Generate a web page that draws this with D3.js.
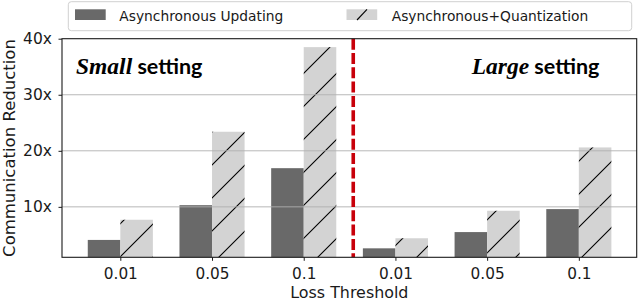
<!DOCTYPE html>
<html>
<head>
<meta charset="utf-8">
<script src="https://cdn.jsdelivr.net/npm/d3@7"></script>
<style>
  html, body { margin: 0; padding: 0; background: #fff; }
  svg { display: block; }
</style>
</head>
<body>
<svg id="chart" width="640" height="301"></svg>
<script>
// ---- data ----
const categories = ["0.01", "0.05", "0.1", "0.01", "0.05", "0.1"];
const asyncUpdating = [4.1, 10.3, 16.9, 2.6, 5.5, 9.6];
const asyncQuantization = [7.7, 23.4, 38.5, 4.4, 9.3, 20.6];
const seriesNames = ["Asynchronous Updating", "Asynchronous+Quantization"];
const yTicks = [10, 20, 30, 40];
const yTickLabels = ["10x", "20x", "30x", "40x"];
const settingLabels = [["Small", " setting"], ["Large", " setting"]];
const dividerPos = 2.54;

// ---- layout ----
const svg = d3.select("#chart");
const L = 62, R = 636.7, T = 38.7, B = 257.3;
const x = d3.scaleLinear().domain([-0.636, 5.631]).range([L, R]);
const y = d3.scaleLinear().domain([1, 40]).range([B, T]);
const bw = 0.355;
const darkColor = "#696969", lightColor = "#d3d3d3";
const txt = "#1a1a1a";

// hatch pattern
const defs = svg.append("defs");
const P = 33;
const pat = defs.append("pattern").attr("id", "hatch")
  .attr("patternUnits", "userSpaceOnUse")
  .attr("x", 14).attr("y", 0).attr("width", P).attr("height", P);
pat.append("rect").attr("width", P).attr("height", P).attr("fill", lightColor);
pat.append("path")
  .attr("d", `M-2,${P + 2} L${P + 2},-2 M-2,2 L2,-2 M${P - 2},${P + 2} L${P + 2},${P - 2}`)
  .attr("stroke", "#000").attr("stroke-width", 1.1);

const clip = defs.append("clipPath").attr("id", "plotclip");
clip.append("rect").attr("x", L).attr("y", T).attr("width", R - L).attr("height", B - T);

const plot = svg.append("g").attr("clip-path", "url(#plotclip)");

// bars
plot.selectAll("rect.dark").data(asyncUpdating).join("rect")
  .attr("class", "dark")
  .attr("x", (d, i) => x(i - bw))
  .attr("width", (d, i) => x(i) - x(i - bw))
  .attr("y", d => y(d))
  .attr("height", d => y(0) - y(d))
  .attr("fill", darkColor);

plot.selectAll("rect.light").data(asyncQuantization).join("rect")
  .attr("class", "light")
  .attr("x", (d, i) => x(i))
  .attr("width", (d, i) => x(i + bw) - x(i))
  .attr("y", d => y(d))
  .attr("height", d => y(0) - y(d))
  .attr("fill", "url(#hatch)");

// gridlines (above bars)
svg.append("g").selectAll("line").data(yTicks.filter(t => t < 40)).join("line")
  .attr("x1", L).attr("x2", R)
  .attr("y1", d => y(d)).attr("y2", d => y(d))
  .attr("stroke", "#b0b0b0").attr("stroke-width", 0.9);

// divider
svg.append("line")
  .attr("x1", x(dividerPos)).attr("x2", x(dividerPos))
  .attr("y1", T).attr("y2", B)
  .attr("stroke", "#c8000a").attr("stroke-width", 3.6)
  .attr("stroke-dasharray", "11,3.3");

// axes
const yAxis = d3.axisLeft(y).tickValues(yTicks)
  .tickFormat((d, i) => yTickLabels[i]).tickSize(3.5).tickPadding(6.5);
const gy = svg.append("g").attr("transform", `translate(${L},0)`).call(yAxis);
gy.select(".domain").remove();
gy.selectAll("text").attr("font-family", "DejaVu Sans").attr("font-size", 15.5).attr("fill", txt);
gy.selectAll("line").attr("stroke", txt);

const xAxis = d3.axisBottom(x).tickValues(d3.range(categories.length))
  .tickFormat(i => categories[i]).tickSize(3.5).tickPadding(7);
const gx = svg.append("g").attr("transform", `translate(0,${B})`).call(xAxis);
gx.select(".domain").remove();
gx.selectAll("text").attr("font-family", "DejaVu Sans").attr("font-size", 15.3).attr("fill", txt);
gx.selectAll("line").attr("stroke", txt);

// frame
svg.append("rect").attr("x", L).attr("y", T).attr("width", R - L).attr("height", B - T)
  .attr("fill", "none").attr("stroke", txt).attr("stroke-width", 1.1);

// axis labels
svg.append("text").text("Loss Threshold")
  .attr("x", (L + R) / 2).attr("y", 298).attr("text-anchor", "middle")
  .attr("font-family", "DejaVu Sans").attr("font-size", 15.9).attr("fill", txt);
svg.append("text").text("Communication Reduction")
  .attr("transform", `translate(15,${(T + B) / 2}) rotate(-90)`)
  .attr("text-anchor", "middle")
  .attr("font-family", "DejaVu Sans").attr("font-size", 16.5).attr("fill", txt);

// setting labels
const labelPos = [[76, 74.3], [471.7, 74.3]];
settingLabels.forEach((parts, k) => {
  const t = svg.append("text").attr("x", labelPos[k][0]).attr("y", labelPos[k][1]).attr("fill", "#000");
  t.append("tspan").text(parts[0])
    .attr("font-family", "Liberation Serif").attr("font-style", "italic")
    .attr("font-weight", "bold").attr("font-size", 23.5);
  t.append("tspan").text(parts[1])
    .attr("font-family", "Lato").attr("font-weight", "bold").attr("font-size", 21.5);
});

// legend
const lg = svg.append("g");
lg.append("rect").attr("x", 68.3).attr("y", 1.7).attr("width", 631.7 - 68.3).attr("height", 29)
  .attr("rx", 3).attr("fill", "#fff").attr("stroke", "#d0d0d0").attr("stroke-width", 1);
const legItems = [
  { px: 75, tx: 119.3, fill: darkColor, hatch: false },
  { px: 346.5, tx: 391.7, fill: lightColor, hatch: true }
];
legItems.forEach((it, k) => {
  lg.append("rect").attr("x", it.px).attr("y", 9.3).attr("width", 30.7).attr("height", 10.7)
    .attr("fill", it.fill);
  if (it.hatch) {
    lg.append("line").attr("x1", it.px + 10.5).attr("y1", 20).attr("x2", it.px + 20.5).attr("y2", 9.3)
      .attr("stroke", "#000").attr("stroke-width", 1.1);
  }
  lg.append("text").text(seriesNames[k]).attr("x", it.tx).attr("y", 20.5)
    .attr("font-family", "DejaVu Sans").attr("font-size", 13.8).attr("fill", txt);
});
</script>
</body>
</html>
